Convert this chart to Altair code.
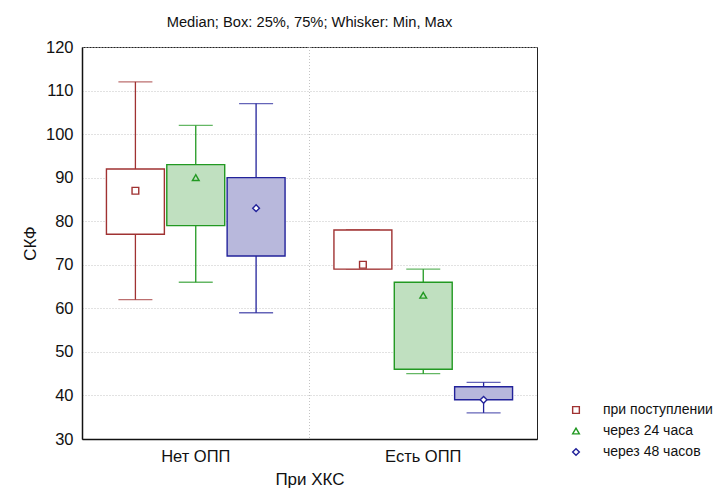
import altair as alt
import pandas as pd

# ---- data ----
category_order = ["Нет ОПП", "Есть ОПП"]
series_order = ["при поступлении", "через 24 часа", "через 48 часов"]

groups = ["Нет ОПП", "Нет ОПП", "Нет ОПП", "Есть ОПП", "Есть ОПП", "Есть ОПП"]
series = ["при поступлении", "через 24 часа", "через 48 часов",
          "при поступлении", "через 24 часа", "через 48 часов"]
mins = [62, 66, 59, 69, 45, 36]
q1s = [77, 79, 72, 69, 46, 39]
medians = [87, 90, 83, 70, 63, 39]
q3s = [92, 93, 90, 78, 66, 42]
maxs = [112, 102, 107, 78, 69, 43]

y_ticks = [30, 40, 50, 60, 70, 80, 90, 100, 110, 120]

stroke_colors = ["#A03232", "#229922", "#22229A"]
fill_colors = ["#FFFFFF", "#C0E0C0", "#B8B8DC"]
shapes = ["square", "triangle-up", "diamond"]

stroke_map = dict(zip(series_order, stroke_colors))
fill_map = dict(zip(series_order, fill_colors))

df = pd.DataFrame({
    "group": groups, "series": series, "min": mins, "q1": q1s,
    "median": medians, "q3": q3s, "max": maxs,
})
df["stroke_c"] = df["series"].map(stroke_map)
df["fill_c"] = df["series"].map(fill_map)
sep_df = pd.DataFrame({"group": ["Есть ОПП"]})

FONT = "Liberation Sans"

x_axis = alt.Axis(title="При ХКС", labelAngle=0, labelAlign="center", labelBaseline="top",
                  ticks=False, grid=False, labelPadding=9, titlePadding=7)
x_scale = alt.Scale(paddingInner=0, paddingOuter=0)
x_enc = alt.X("group:N", sort=category_order, scale=x_scale, axis=x_axis)
xoff_enc = alt.XOffset(
    "series:N", sort=series_order,
    scale=alt.Scale(paddingInner=0.04, paddingOuter=0.405),
)
y_axis = alt.Axis(title="СКФ", values=y_ticks, ticks=False, labelPadding=9,
                  titlePadding=6, grid=True)
y_scale = alt.Scale(domain=[30, 120], nice=False, zero=False)

stroke_direct = alt.Stroke("stroke_c:N", scale=None)
fill_line = alt.Fill("stroke_c:N", scale=None)
fill_box = alt.Fill("fill_c:N", scale=None)

base = alt.Chart(df).encode(x=x_enc, xOffset=xoff_enc)

sep = alt.Chart(sep_df).mark_rule(color="#c4c4c4", strokeDash=[1, 2], strokeWidth=1).encode(
    x=alt.X("group:N", sort=category_order, scale=x_scale, axis=x_axis, bandPosition=0)
)

whisk_lo = base.mark_rule(strokeWidth=1.3).encode(
    y=alt.Y("min:Q", scale=y_scale, axis=y_axis), y2="q1:Q", stroke=stroke_direct)
whisk_hi = base.mark_rule(strokeWidth=1.3).encode(
    y=alt.Y("q3:Q", scale=y_scale, axis=y_axis), y2="max:Q", stroke=stroke_direct)

cap_lo = base.mark_tick(orient="horizontal", size=34, thickness=1.4).encode(
    y=alt.Y("min:Q", scale=y_scale, axis=y_axis), fill=fill_line)
cap_hi = base.mark_tick(orient="horizontal", size=34, thickness=1.4).encode(
    y=alt.Y("max:Q", scale=y_scale, axis=y_axis), fill=fill_line)

boxes = base.mark_bar(strokeWidth=1.4).encode(
    y=alt.Y("q1:Q", scale=y_scale, axis=y_axis), y2="q3:Q",
    fill=fill_box, stroke=stroke_direct,
)

legend = alt.Legend(title=None, orient="none", legendX=487, legendY=356)
shape_enc = alt.Shape("series:N", sort=series_order,
                      scale=alt.Scale(domain=series_order, range=shapes),
                      legend=legend)
med = base.mark_point(filled=False, size=45, strokeWidth=1.4, opacity=1).encode(
    y=alt.Y("median:Q", scale=y_scale, axis=y_axis),
    color=alt.Color("series:N", sort=series_order,
                    scale=alt.Scale(domain=series_order, range=stroke_colors),
                    legend=legend),
    shape=shape_enc,
)
med_bg = base.mark_point(filled=True, size=45, color="white", opacity=1).encode(
    y=alt.Y("median:Q", scale=y_scale, axis=y_axis),
    shape=shape_enc,
).transform_filter(alt.datum.series != series_order[1])

chart = alt.layer(sep, whisk_lo, whisk_hi, cap_lo, cap_hi, boxes, med_bg, med).properties(
    width=455, height=392,
    padding={"left": 74, "top": 39, "right": 178, "bottom": 49},
    autosize=alt.AutoSizeParams(type="none"),
    title=alt.TitleParams(text="Median; Box: 25%, 75%; Whisker: Min, Max",
                          font=FONT, fontSize=14.7, fontWeight="normal",
                          color="#111", anchor="middle", frame="group", offset=9),
).configure_view(
    stroke="#222", strokeWidth=1
).configure_axis(
    labelFont=FONT, titleFont=FONT, labelFontSize=16.5, titleFontSize=17,
    labelColor="#111", titleColor="#111", titleFontWeight="normal",
    domainColor="#111", domainWidth=1.5,
    gridColor="#c4c4c4", gridDash=[1, 2], gridWidth=1,
).configure_legend(
    labelFont=FONT, labelFontSize=14, labelColor="#111", labelOffset=20,
    rowPadding=7, padding=0, symbolSize=45, symbolStrokeWidth=1.4,
    symbolFillColor="white",
)

chart.save("out.html", embed_options={"renderer": "svg", "actions": False})
